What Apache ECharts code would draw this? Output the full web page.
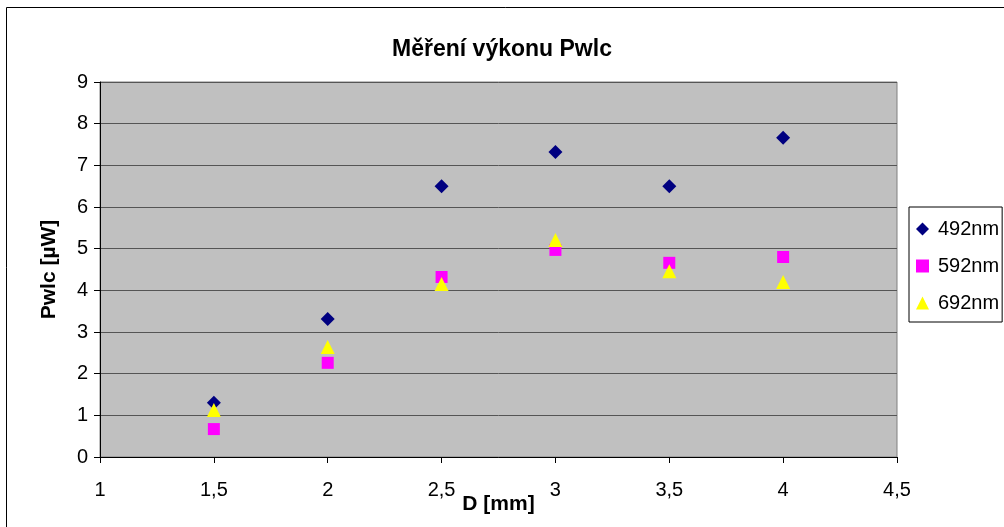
<!DOCTYPE html>
<html><head><meta charset="utf-8">
<script src="https://cdn.jsdelivr.net/npm/echarts@6/dist/echarts.min.js"></script>
<style>html,body{margin:0;padding:0;background:#fff;}#c{width:1004px;height:527px;}</style>
</head><body><div id="c"></div>
<script>
const xValues = [1.5, 2, 2.5, 3, 3.5, 4];
const s492 = [1.30, 3.31, 6.50, 7.32, 6.50, 7.66];
const s592 = [0.67, 2.26, 4.32, 4.97, 4.66, 4.80];
const s692 = [1.13, 2.64, 4.15, 5.21, 4.46, 4.20];
const seriesNames = ['492nm', '592nm', '692nm'];
const titleText = 'Měření výkonu Pwlc';
const xName = 'D [mm]';
const yName = 'Pwlc [µW]';

function pairs(ys){ return xValues.map((x,i)=>[x, ys[i]]); }
const font = 'Liberation Sans, Arial, sans-serif';
const chart = echarts.init(document.getElementById('c'));
chart.setOption({
  animation: false,
  backgroundColor: '#fff',
  title: { text: titleText, left: 'center', top: 33, textStyle: { fontFamily: font, fontSize: 23, fontWeight: 'bold', color: '#000' } },
  graphic: [{ type: 'rect', left: 4, top: 5, shape: { width: 1020, height: 540 }, style: { fill: 'none', stroke: '#000', lineWidth: 1 }, silent: true }],
  grid: { left: 100, right: 107, top: 82, bottom: 70, containLabel: false, outerBoundsMode: 'none', show: true, backgroundColor: '#C0C0C0', borderColor: '#808080', borderWidth: 1 },
  legend: {
    orient: 'vertical', left: 909, top: 207, padding: [12, 3, 9, 7], itemGap: 17,
    borderColor: '#000', borderWidth: 1, backgroundColor: '#fff',
    itemWidth: 13, itemHeight: 13,
    textStyle: { fontFamily: font, fontSize: 20, color: '#000', padding: [0, 0, 0, 4] },
    data: [{name: seriesNames[0], icon: 'diamond'}, {name: seriesNames[1], icon: 'rect'}, {name: seriesNames[2], icon: 'triangle'}]
  },
  xAxis: {
    type: 'value', min: 1, max: 4.5, interval: 0.5,
    name: xName, nameLocation: 'middle', nameGap: 37, nameMoveOverlap: false,
    nameTextStyle: { fontFamily: font, fontSize: 21, fontWeight: 'bold', color: '#000' },
    axisLine: { show: true, onZero: false, lineStyle: { color: '#000', width: 1 } },
    axisTick: { show: true, length: 6, lineStyle: { color: '#000' } },
    axisLabel: { margin: 23, fontFamily: font, fontSize: 20, color: '#000', formatter: v => String(v).replace('.', ',') },
    splitLine: { show: false }
  },
  yAxis: {
    type: 'value', min: 0, max: 9, interval: 1,
    name: yName, nameLocation: 'middle', nameGap: 40, nameRotate: 90, nameMoveOverlap: false,
    nameTextStyle: { fontFamily: font, fontSize: 21, fontWeight: 'bold', color: '#000' },
    axisLine: { show: true, lineStyle: { color: '#000', width: 1 } },
    axisTick: { show: true, length: 6, lineStyle: { color: '#000' } },
    axisLabel: { margin: 12, fontFamily: font, fontSize: 20, color: '#000' },
    splitLine: { show: true, lineStyle: { color: '#555', width: 1 } }
  },
  series: [
    { name: seriesNames[0], type: 'scatter', symbol: 'diamond', symbolSize: 14, itemStyle: { color: '#000080', opacity: 1 }, data: pairs(s492) },
    { name: seriesNames[1], type: 'scatter', symbol: 'rect', symbolSize: 12, itemStyle: { color: '#FF00FF', opacity: 1 }, data: pairs(s592) },
    { name: seriesNames[2], type: 'scatter', symbol: 'triangle', symbolSize: 14, itemStyle: { color: '#FFFF00', opacity: 1 }, data: pairs(s692) }
  ]
});
</script></body></html>
